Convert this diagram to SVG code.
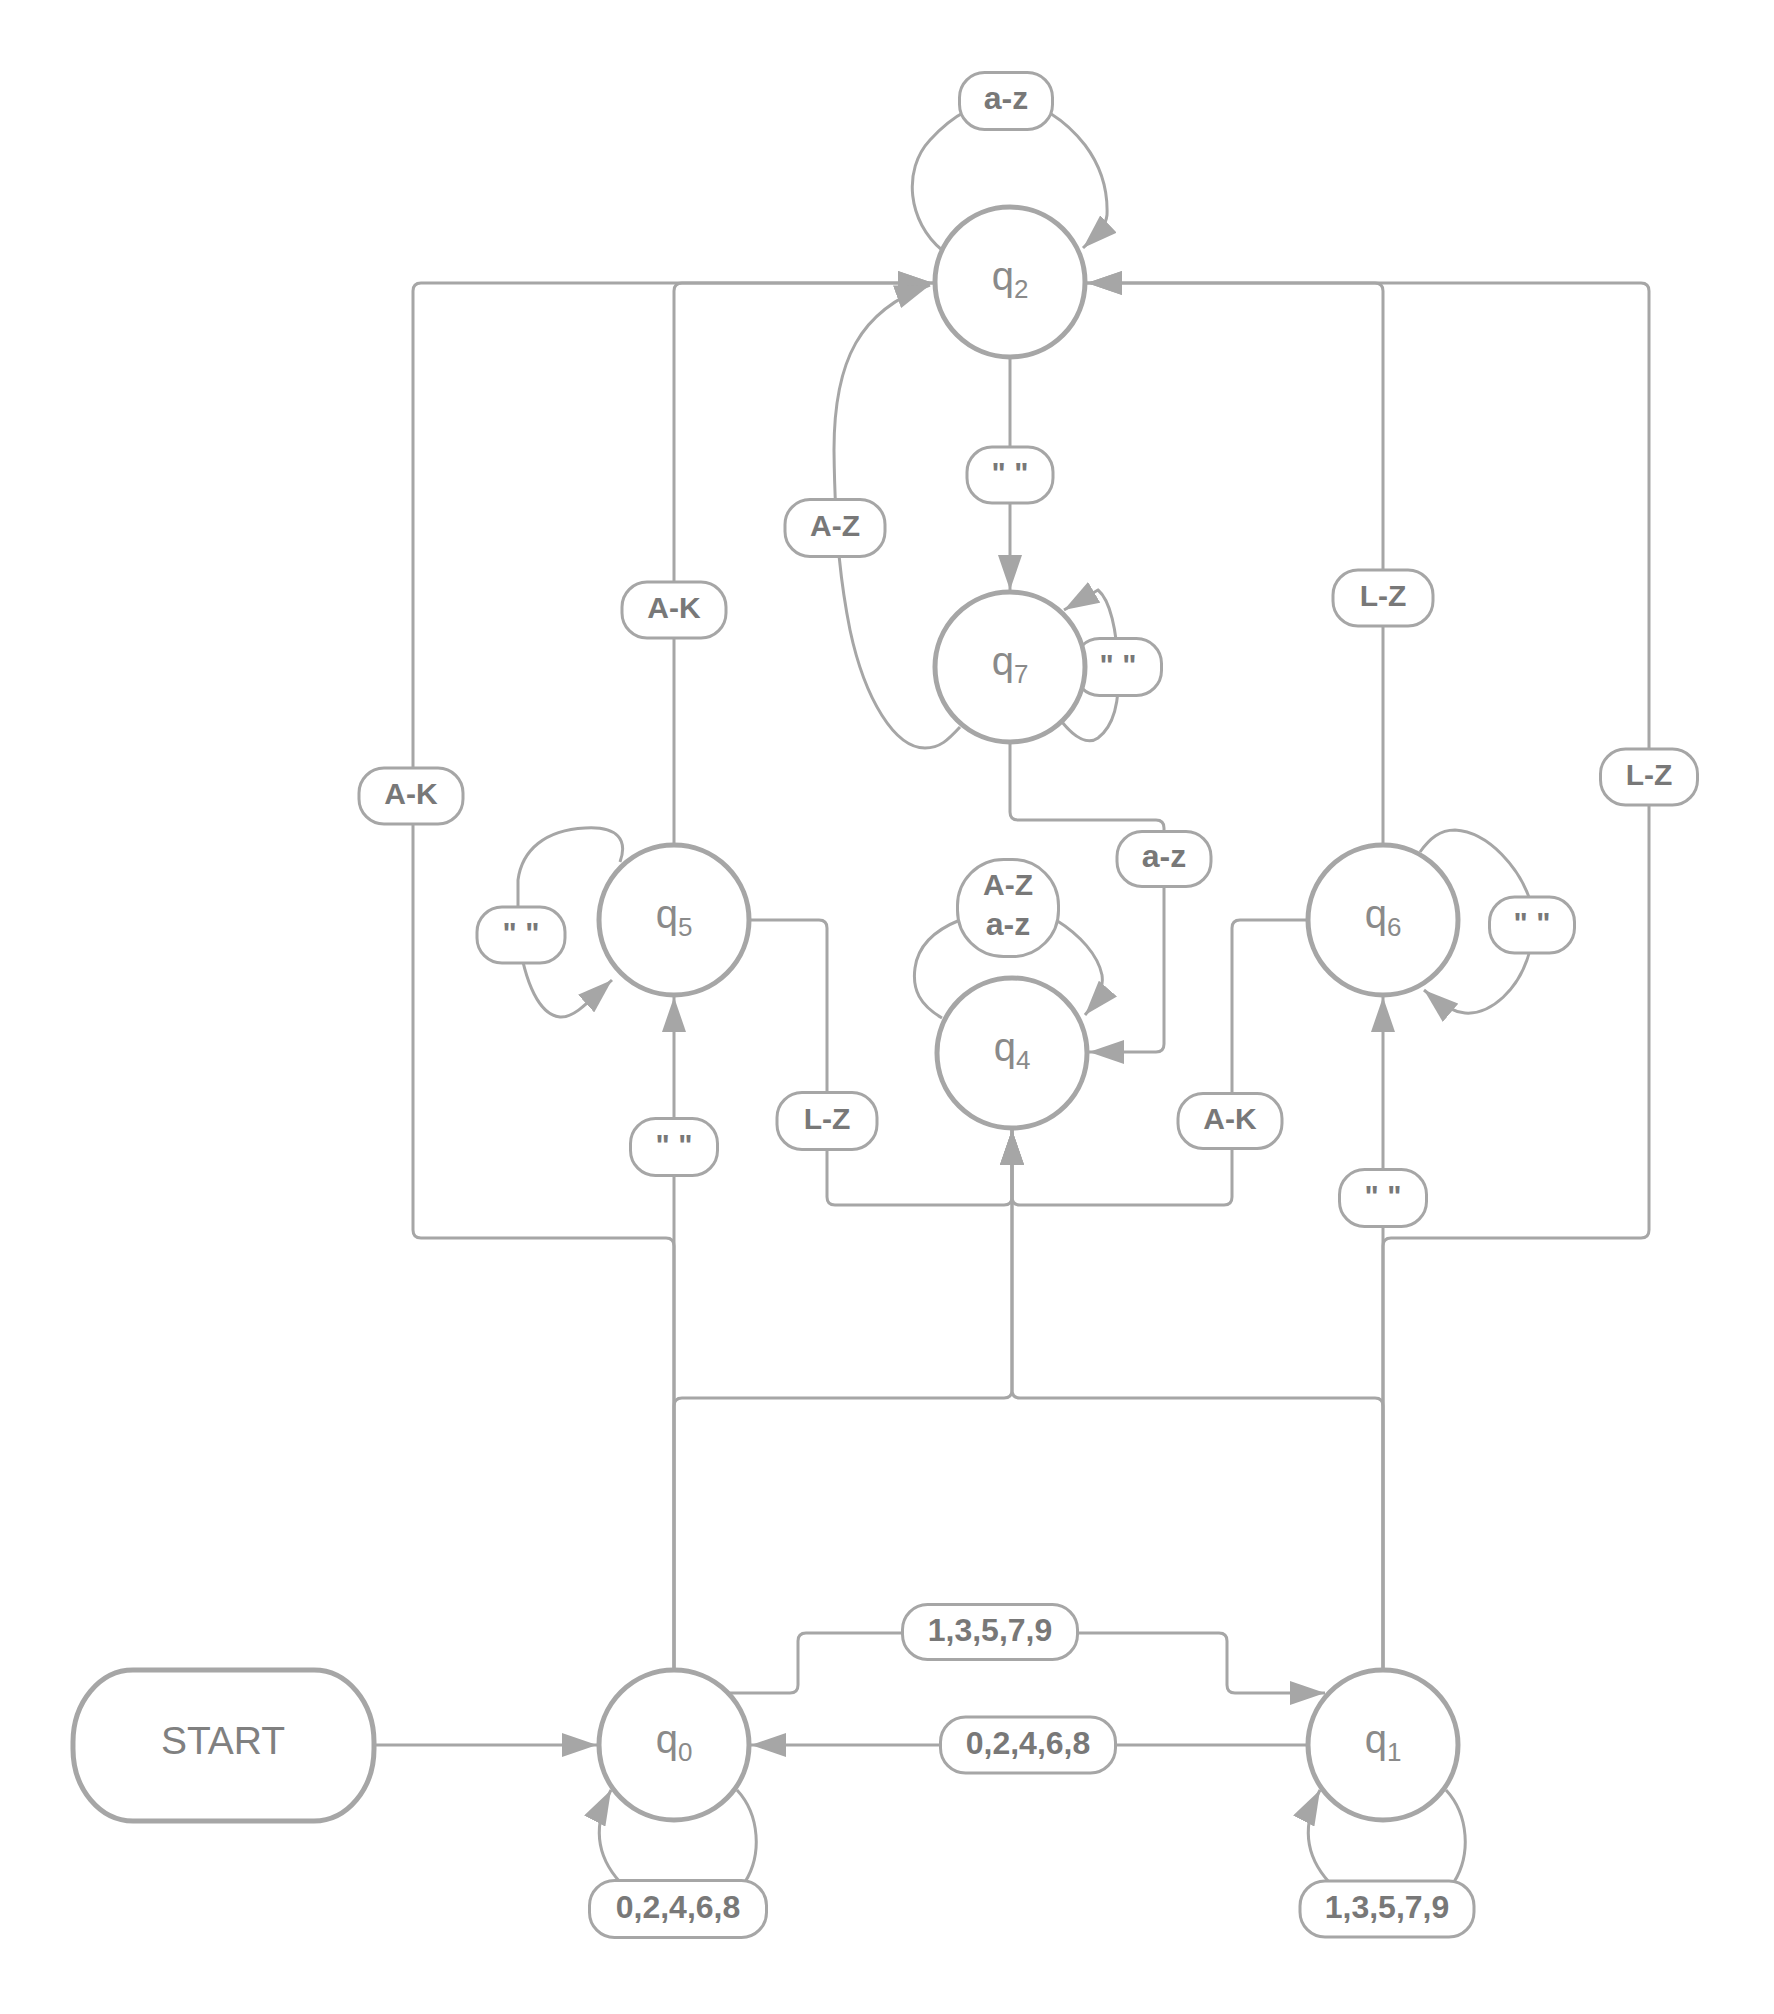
<svg xmlns="http://www.w3.org/2000/svg" width="1774" height="2014" viewBox="0 0 1774 2014">
<defs>
<marker id="arr" viewBox="0 0 35 24" refX="35" refY="12" markerWidth="35" markerHeight="24" markerUnits="userSpaceOnUse" orient="auto"><path d="M0,0 L35,12 L0,24 z" fill="#a6a6a6"/></marker>
</defs>
<style>
.c{fill:none;stroke:#a6a6a6;stroke-width:3;marker-end:url(#arr)}
.n{fill:#fff;stroke:#a6a6a6;stroke-width:5}
.lb{fill:#fff;stroke:#a6a6a6;stroke-width:3}
.lt{font-family:"Liberation Sans",Arial,sans-serif;font-weight:bold;font-size:30px;fill:#787878;text-anchor:middle}
.lz{font-size:32px}
.dg{font-size:32px}
.qt{font-family:"Liberation Sans",Arial,sans-serif;font-size:40px;fill:#8a8a8a;text-anchor:middle}
.st{font-family:"Liberation Sans",Arial,sans-serif;font-size:39px;fill:#808080;text-anchor:middle}
</style>
<rect width="1774" height="2014" fill="#fff"/>

<g id="connectors">
<path class="c" d="M374,1745 H597"/>
<path class="c" d="M729,1693 H790 Q798,1693 798,1685 V1641 Q798,1633 806,1633 H1219 Q1227,1633 1227,1641 V1685 Q1227,1693 1235,1693 H1325"/>
<path class="c" d="M1306,1745 H751"/>
<path class="c" d="M737,1790 C760,1815 762,1855 745,1882 L620,1882 C600,1860 590,1830 611,1790"/>
<path class="c" d="M1446,1790 C1469,1815 1471,1855 1454,1882 L1329,1882 C1309,1860 1299,1830 1320,1790"/>
<path class="c" d="M674,1668 V997"/>
<path class="c" d="M1383,1668 V997"/>
<path class="c" d="M674,1668 V1406 Q674,1398 682,1398 H1004 Q1012,1398 1012,1390 V1130"/>
<path class="c" d="M1383,1668 V1406 Q1383,1398 1375,1398 H1020 Q1012,1398 1012,1390 V1130"/>
<path class="c" d="M674,1668 V1246 Q674,1238 666,1238 H421 Q413,1238 413,1230 V291 Q413,283 421,283 H933"/>
<path class="c" d="M674,843 V291 Q674,283 682,283 H933"/>
<path class="c" d="M1383,1668 V1246 Q1383,1238 1391,1238 H1641 Q1649,1238 1649,1230 V291 Q1649,283 1641,283 H1087"/>
<path class="c" d="M1383,843 V291 Q1383,283 1375,283 H1087"/>
<path class="c" d="M751,920 H819 Q827,920 827,928 V1197 Q827,1205 835,1205 H1004 Q1012,1205 1012,1197 V1130"/>
<path class="c" d="M1306,920 H1240 Q1232,920 1232,928 V1197 Q1232,1205 1224,1205 H1020 Q1012,1205 1012,1197 V1130"/>
<path class="c" d="M1010,744 V812 Q1010,820 1018,820 H1156 Q1164,820 1164,828 V1044 Q1164,1052 1156,1052 H1089"/>
<path class="c" d="M1010,359 V590"/>
<path class="c" d="M960,727 C948,740 940,748 925,748 C895,748 865,700 850,630 C842,590 835,540 834,450 C834,360 860,310 930,285"/>
<path class="c" d="M942,250 C908,222 902,170 930,140 C950,118 975,101 1006,101 C1040,101 1065,120 1085,145 C1100,165 1108,190 1107,215 C1106,225 1100,232 1083,248"/>
<path class="c" d="M1062,722 C1075,738 1088,745 1098,738 C1115,725 1120,700 1118,667 C1117,630 1110,600 1098,590 L1064,610"/>
<path class="c" d="M620,862 C628,840 618,826 585,828 C545,830 522,850 518,880 L518,935 C525,985 540,1015 560,1017 C575,1018 590,1000 612,980"/>
<path class="c" d="M1420,852 C1430,838 1440,830 1455,830 C1490,832 1520,870 1530,900 L1530,950 C1520,990 1490,1015 1465,1013 C1455,1012 1445,1008 1424,990"/>
<path class="c" d="M942,1018 C920,1005 912,990 915,968 C918,945 935,930 960,920 L1056,920 C1080,935 1098,955 1102,975 C1104,990 1098,1000 1085,1015"/>
</g>

<g id="edge-labels">
<g><rect class="lb" x="959.5" y="72.5" width="93" height="57" rx="25"/><text class="lt lz" x="1006" y="109">a-z</text></g>
<g><rect class="lb" x="967" y="447" width="86" height="56" rx="25"/><text class="lt" x="1010" y="483">" "</text></g>
<g><rect class="lb" x="785" y="499.5" width="100" height="57" rx="25"/><text class="lt" x="835" y="536">A-Z</text></g>
<g><rect class="lb" x="1074.5" y="638.5" width="87" height="57" rx="25"/><text class="lt" x="1118" y="675">" "</text></g>
<g><rect class="lb" x="622" y="582" width="104" height="56" rx="25"/><text class="lt" x="674" y="618">A-K</text></g>
<g><rect class="lb" x="1333" y="570" width="100" height="56" rx="25"/><text class="lt" x="1383" y="606">L-Z</text></g>
<g><rect class="lb" x="359" y="768" width="104" height="56" rx="25"/><text class="lt" x="411" y="804">A-K</text></g>
<g><rect class="lb" x="1600.5" y="749" width="97" height="56" rx="25"/><text class="lt" x="1649" y="785">L-Z</text></g>
<g><rect class="lb" x="1117" y="831.5" width="94" height="55" rx="25"/><text class="lt lz" x="1164" y="867">a-z</text></g>
<g><rect class="lb" x="957.5" y="859.5" width="101" height="97" rx="46"/><text class="lt" x="1008" y="895">A-Z</text><text class="lt lz" x="1008" y="935">a-z</text></g>
<g><rect class="lb" x="477" y="907" width="88" height="56" rx="25"/><text class="lt" x="521" y="943">" "</text></g>
<g><rect class="lb" x="1489.5" y="897" width="85" height="56" rx="25"/><text class="lt" x="1532" y="933">" "</text></g>
<g><rect class="lb" x="630.5" y="1118.5" width="87" height="57" rx="25"/><text class="lt" x="674" y="1155">" "</text></g>
<g><rect class="lb" x="777" y="1092.5" width="100" height="57" rx="25"/><text class="lt" x="827" y="1129">L-Z</text></g>
<g><rect class="lb" x="1178" y="1093.5" width="104" height="55" rx="25"/><text class="lt" x="1230" y="1129">A-K</text></g>
<g><rect class="lb" x="1339.5" y="1169.5" width="87" height="57" rx="25"/><text class="lt" x="1383" y="1206">" "</text></g>
<g><rect class="lb" x="902.5" y="1604.5" width="175" height="55" rx="25"/><text class="lt dg" x="990" y="1641">1,3,5,7,9</text></g>
<g><rect class="lb" x="940.5" y="1717" width="175" height="56" rx="25"/><text class="lt dg" x="1028" y="1754">0,2,4,6,8</text></g>
<g><rect class="lb" x="589.5" y="1880.5" width="177" height="57" rx="25"/><text class="lt dg" x="678" y="1918">0,2,4,6,8</text></g>
<g><rect class="lb" x="1300" y="1881" width="174" height="56" rx="25"/><text class="lt dg" x="1387" y="1918">1,3,5,7,9</text></g>
</g>

<g id="start"><rect class="n" x="73" y="1670" width="301" height="151" rx="60" ry="72"/><text class="st" x="223" y="1754">START</text></g>
<g id="q0"><circle class="n" cx="674" cy="1745" r="75"/><text class="qt" x="674" y="1753">q<tspan font-size="26" dy="8">0</tspan></text></g>
<g id="q1"><circle class="n" cx="1383" cy="1745" r="75"/><text class="qt" x="1383" y="1753">q<tspan font-size="26" dy="8">1</tspan></text></g>
<g id="q2"><circle class="n" cx="1010" cy="282" r="75"/><text class="qt" x="1010" y="290">q<tspan font-size="26" dy="8">2</tspan></text></g>
<g id="q4"><circle class="n" cx="1012" cy="1053" r="75"/><text class="qt" x="1012" y="1061">q<tspan font-size="26" dy="8">4</tspan></text></g>
<g id="q5"><circle class="n" cx="674" cy="920" r="75"/><text class="qt" x="674" y="928">q<tspan font-size="26" dy="8">5</tspan></text></g>
<g id="q6"><circle class="n" cx="1383" cy="920" r="75"/><text class="qt" x="1383" y="928">q<tspan font-size="26" dy="8">6</tspan></text></g>
<g id="q7"><circle class="n" cx="1010" cy="667" r="75"/><text class="qt" x="1010" y="675">q<tspan font-size="26" dy="8">7</tspan></text></g>
</svg>
